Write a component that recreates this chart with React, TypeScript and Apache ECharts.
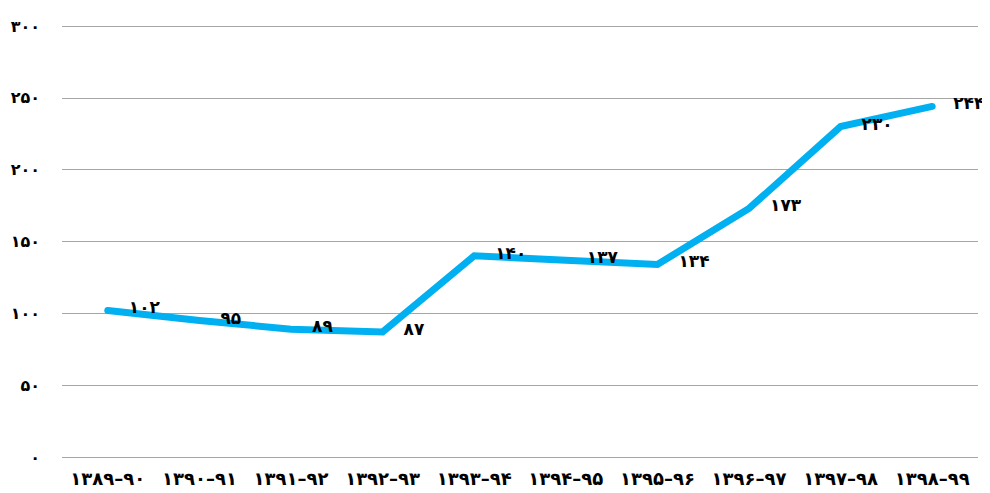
import React, { useEffect, useRef } from "react";
import * as echarts from "echarts";

const categories = [
  "۱۳۸۹–۹۰", "۱۳۹۰–۹۱", "۱۳۹۱–۹۲", "۱۳۹۲–۹۳", "۱۳۹۳–۹۴",
  "۱۳۹۴–۹۵", "۱۳۹۵–۹۶", "۱۳۹۶–۹۷", "۱۳۹۷–۹۸", "۱۳۹۸–۹۹",
];
const values = [102, 95, 89, 87, 140, 137, 134, 173, 230, 244];

const fa = (n: number | string) =>
  String(n).replace(/[0-9]/g, (d) => "۰۱۲۳۴۵۶۷۸۹"[Number(d)]);

export default function App() {
  const ref = useRef<HTMLDivElement>(null);
  useEffect(() => {
    const chart = echarts.init(ref.current!, null, { renderer: "svg" });
    chart.setOption({
      animation: false,
      backgroundColor: "#ffffff",
      grid: { left: 62, right: 12, top: 26, bottom: 36, containLabel: false },
      xAxis: {
        type: "category",
        data: categories,
        boundaryGap: true,
        axisLine: { show: false },
        axisTick: { show: false },
        axisLabel: {
          interval: 0,
          color: "#000",
          fontWeight: "bold",
          fontSize: 18,
          fontFamily: "DejaVu Sans",
          margin: 12,
        },
      },
      yAxis: {
        type: "value",
        min: 0,
        max: 300,
        interval: 50,
        axisLine: { show: false },
        axisTick: { show: false },
        splitLine: { lineStyle: { color: "#a6a6a6", width: 1 } },
        axisLabel: {
          color: "#000",
          fontWeight: "bold",
          fontSize: 16,
          fontFamily: "DejaVu Sans",
          margin: 22,
          formatter: (v: number) => fa(v),
        },
      },
      series: [
        {
          type: "line",
          data: values,
          symbol: "circle",
          symbolSize: 2,
          showSymbol: true,
          itemStyle: { color: "rgba(0,176,240,0)" },
          lineStyle: { color: "#00B0F0", width: 7, cap: "round", join: "miter" },
          label: {
            show: true,
            position: "right",
            distance: 20,
            offset: [0, -3],
            color: "#000",
            fontWeight: "bold",
            fontSize: 17,
            fontFamily: "DejaVu Sans",
            formatter: (p: any) => fa(p.value),
          },
        },
      ],
    });
    return () => chart.dispose();
  }, []);
  return <div ref={ref} style={{ width: 990, height: 493, margin: -8 }} />;
}
